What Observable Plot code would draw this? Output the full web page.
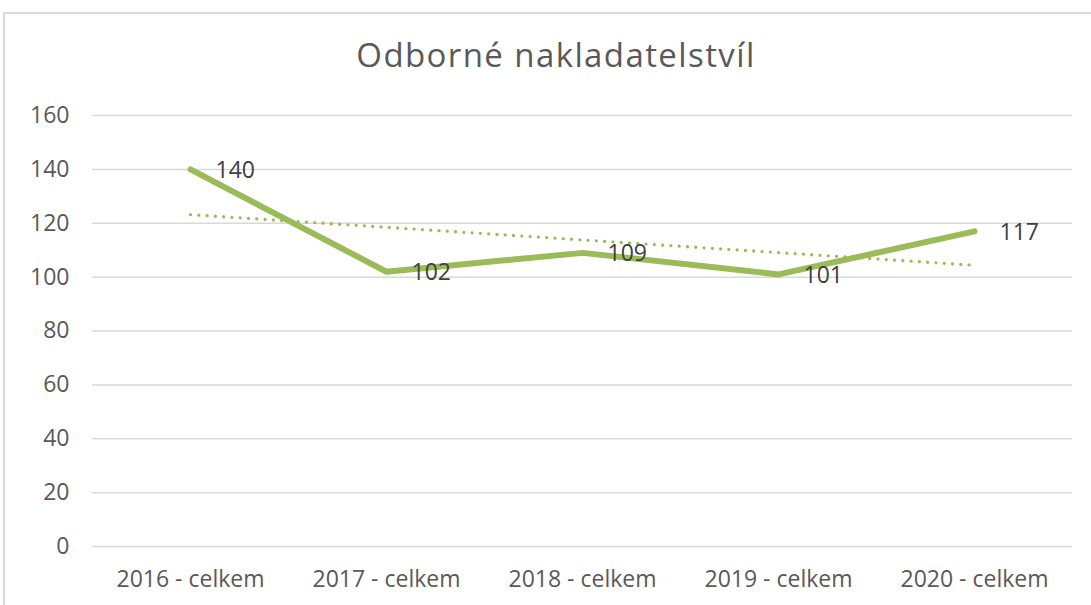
<!DOCTYPE html>
<html>
<head>
<meta charset="utf-8">
<script src="https://cdn.jsdelivr.net/npm/d3@7"></script>
<script src="https://cdn.jsdelivr.net/npm/@observablehq/plot@0.6"></script>
<style>
  html, body { margin: 0; padding: 0; background: #fff; overflow: hidden; }
  #frame { position: absolute; left: 3px; top: 12px; width: 1200px; height: 700px; border: 2px solid #d9d9d9; box-sizing: border-box; }
  #title { position: absolute; left: 0; top: 38px; width: 1112px; text-align: center; font-family: "Open Sans", sans-serif; font-size: 33px; line-height: 33px; letter-spacing: 1.4px; color: #595959; z-index: 2; }
  #chart { position: absolute; left: 0; top: 0; }
</style>
</head>
<body>
<div id="frame"></div>
<div id="title">Odborné nakladatelstvíl</div>
<div id="chart"></div>
<script>
const categories = ["2016 - celkem", "2017 - celkem", "2018 - celkem", "2019 - celkem", "2020 - celkem"];
const values = [140, 102, 109, 101, 117];
const yTicks = [0, 20, 40, 60, 80, 100, 120, 140, 160];

const data = categories.map((c, i) => ({cat: c, value: values[i], i}));

// linear trendline (least squares) computed from the data, as the chart's trendline does
const mx = d3.mean(data, d => d.i);
const my = d3.mean(values);
const slope = d3.sum(data, d => (d.i - mx) * (d.value - my)) / d3.sum(data, d => (d.i - mx) ** 2);
const trend = data.map(d => ({cat: d.cat, value: my + slope * (d.i - mx)}));

const green = "#9BBB59";

const chart = Plot.plot({
  width: 1091,
  height: 605,
  marginLeft: 92,
  marginRight: 19,
  marginTop: 115,
  marginBottom: 59,
  style: {fontFamily: "'Open Sans', sans-serif", fontSize: "23px", color: "#595959", background: "transparent"},
  x: {type: "point", domain: categories, padding: 0.5, label: null},
  y: {domain: [0, 160], label: null},
  marks: [
    Plot.gridY(yTicks, {stroke: "#d9d9d9", strokeOpacity: 1, strokeWidth: 1.5}),
    Plot.axisY(yTicks, {tickSize: 0, tickPadding: 23, fontSize: 23, fill: "#595959", label: null}),
    Plot.axisX({tickSize: 0, tickPadding: 24, fontSize: 23, fill: "#595959", label: null}),
    Plot.line(trend, {x: "cat", y: "value", stroke: green, strokeWidth: 3.3, strokeLinecap: "round", strokeDasharray: "0 8.3"}),
    Plot.line(data, {x: "cat", y: "value", stroke: green, strokeWidth: 6, strokeLinecap: "round", strokeLinejoin: "round"}),
    Plot.text(data, {x: "cat", y: "value", text: d => String(d.value), dx: 25, dy: 1, textAnchor: "start", fill: "#404040", fontSize: 23})
  ]
});
document.getElementById("chart").appendChild(chart);
</script>
</body>
</html>
